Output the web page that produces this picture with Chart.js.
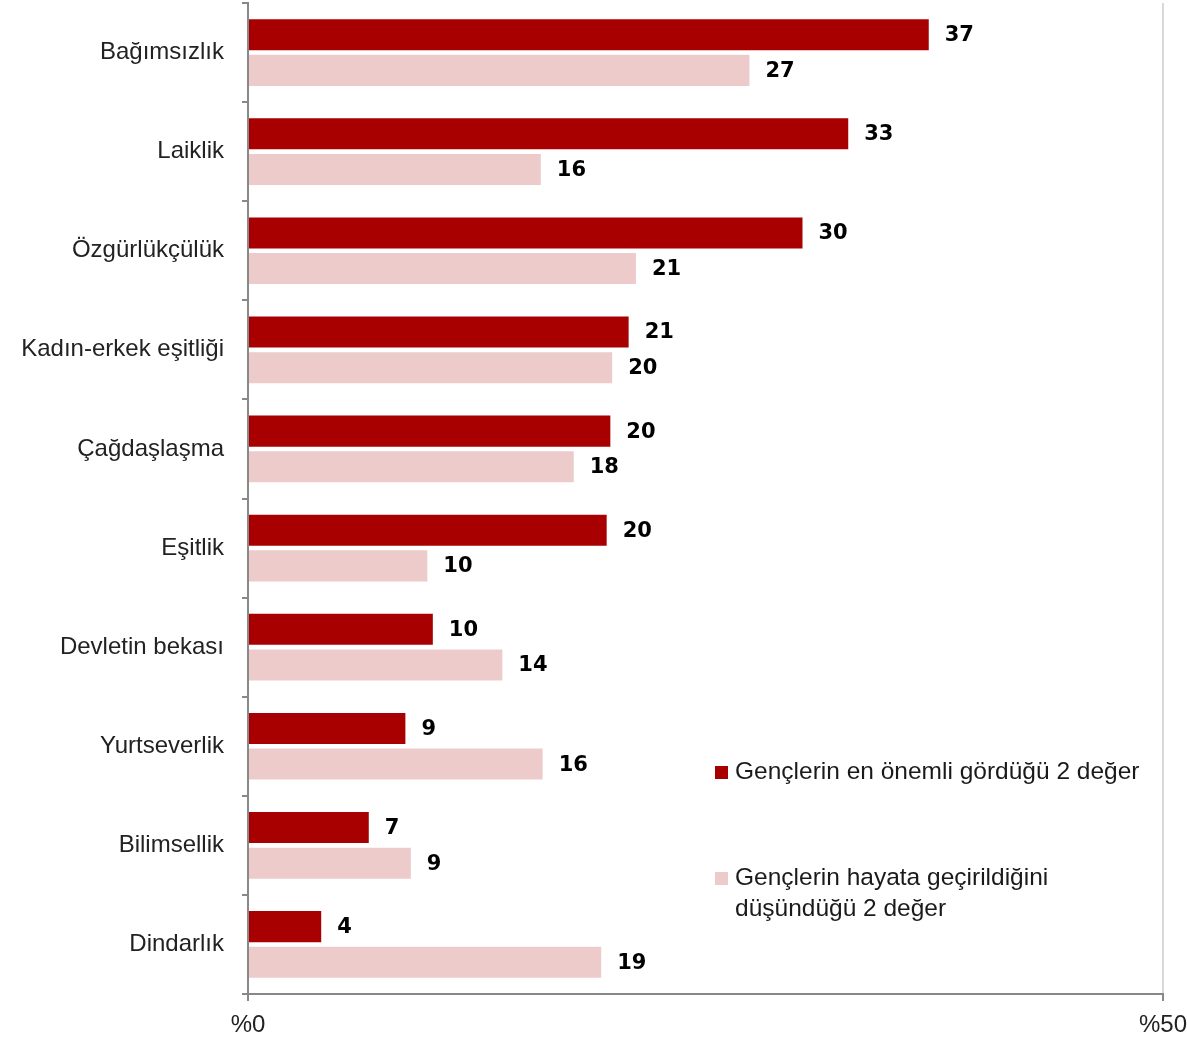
<!DOCTYPE html>
<html>
<head>
<meta charset="utf-8">
<script src="https://cdn.jsdelivr.net/npm/chart.js@4.4.0/dist/chart.umd.min.js"></script>
<style>
  body { margin: 0; background: #fff; }
  #wrap { width: 1187px; height: 1039px; }
</style>
</head>
<body>
<div id="wrap"><canvas id="chart" width="1187" height="1039"></canvas></div>
<script>
// values (percent)
const categories = ['Bağımsızlık', 'Laiklik', 'Özgürlükçülük', 'Kadın-erkek eşitliği', 'Çağdaşlaşma',
  'Eşitlik', 'Devletin bekası', 'Yurtseverlik', 'Bilimsellik', 'Dindarlık'];
const mostImportant = [37.2, 32.8, 30.3, 20.8, 19.8, 19.6, 10.1, 8.6, 6.6, 4.0];
const realized = [27.4, 16.0, 21.2, 19.9, 17.8, 9.8, 13.9, 16.1, 8.9, 19.3];
const seriesNames = ['Gençlerin en önemli gördüğü 2 değer', ['Gençlerin hayata geçirildiğini', 'düşündüğü 2 değer']];
const xTicks = [0, 50];

const RED = '#A80000';
const PINK = '#EDCBCB';
const FONT = '"Liberation Sans", Arial, sans-serif';

// value labels at the end of each bar
const valueLabels = {
  id: 'valueLabels',
  afterDatasetsDraw(chart) {
    const ctx = chart.ctx;
    ctx.save();
    ctx.font = 'bold 21px "DejaVu Sans", sans-serif';
    ctx.fillStyle = '#000';
    ctx.textAlign = 'left';
    ctx.textBaseline = 'middle';
    chart.data.datasets.forEach((ds, i) => {
      chart.getDatasetMeta(i).data.forEach((bar, j) => {
        ctx.fillText(Math.round(ds.data[j]), bar.x + 16, bar.y + 1);
      });
    });
    ctx.restore();
  }
};

// legend sitting inside the plot, lower right
const insideLegend = {
  id: 'insideLegend',
  afterDraw(chart) {
    const ctx = chart.ctx;
    ctx.save();
    ctx.font = '24.5px ' + FONT;
    ctx.textBaseline = 'middle';
    const items = [
      { color: RED, y: 772, lines: [seriesNames[0]] },
      { color: PINK, y: 878, lines: seriesNames[1] }
    ];
    items.forEach(it => {
      ctx.fillStyle = it.color;
      ctx.fillRect(715, it.y - 6, 13, 13);
      ctx.fillStyle = '#1a1a1a';
      it.lines.forEach((l, k) => ctx.fillText(l, 735, it.y + k * 31));
    });
    ctx.restore();
  }
};

new Chart(document.getElementById('chart'), {
  type: 'bar',
  data: {
    labels: categories,
    datasets: [
      { label: 'önemli', data: mostImportant, backgroundColor: RED,
        categoryPercentage: 0.72, barPercentage: 0.87 },
      { label: 'hayata', data: realized, backgroundColor: PINK,
        categoryPercentage: 0.72, barPercentage: 0.87 }
    ]
  },
  options: {
    indexAxis: 'y',
    responsive: false,
    animation: false,
    layout: { padding: { top: 3, right: 24, left: 0, bottom: 0 } },
    plugins: { legend: { display: false }, tooltip: { enabled: false } },
    scales: {
      x: {
        min: 0, max: 50,
        afterBuildTicks: s => { s.ticks = xTicks.map(v => ({ value: v })); },
        afterFit: s => { s.height = 45; s.paddingLeft = 0; s.paddingRight = 0; },
        ticks: { callback: v => '%' + v, color: '#222', font: { size: 24, family: FONT }, padding: 10, maxRotation: 0 },
        grid: {
          color: c => c.tick && c.tick.value === 50 ? '#d9d9d9' : 'rgba(0,0,0,0)',
          tickColor: '#888', tickLength: 7, lineWidth: 2, drawTicks: true
        },
        border: { color: '#888', width: 2 }
      },
      y: {
        afterFit: s => { s.width = 248; s.paddingTop = 0; s.paddingBottom = 0; },
        ticks: { color: '#222', font: { size: 24, family: FONT }, padding: 18 },
        grid: { drawOnChartArea: false, tickColor: '#888', tickLength: 6, lineWidth: 2 },
        border: { color: '#888', width: 2 }
      }
    }
  },
  plugins: [valueLabels, insideLegend]
});
</script>
</body>
</html>
